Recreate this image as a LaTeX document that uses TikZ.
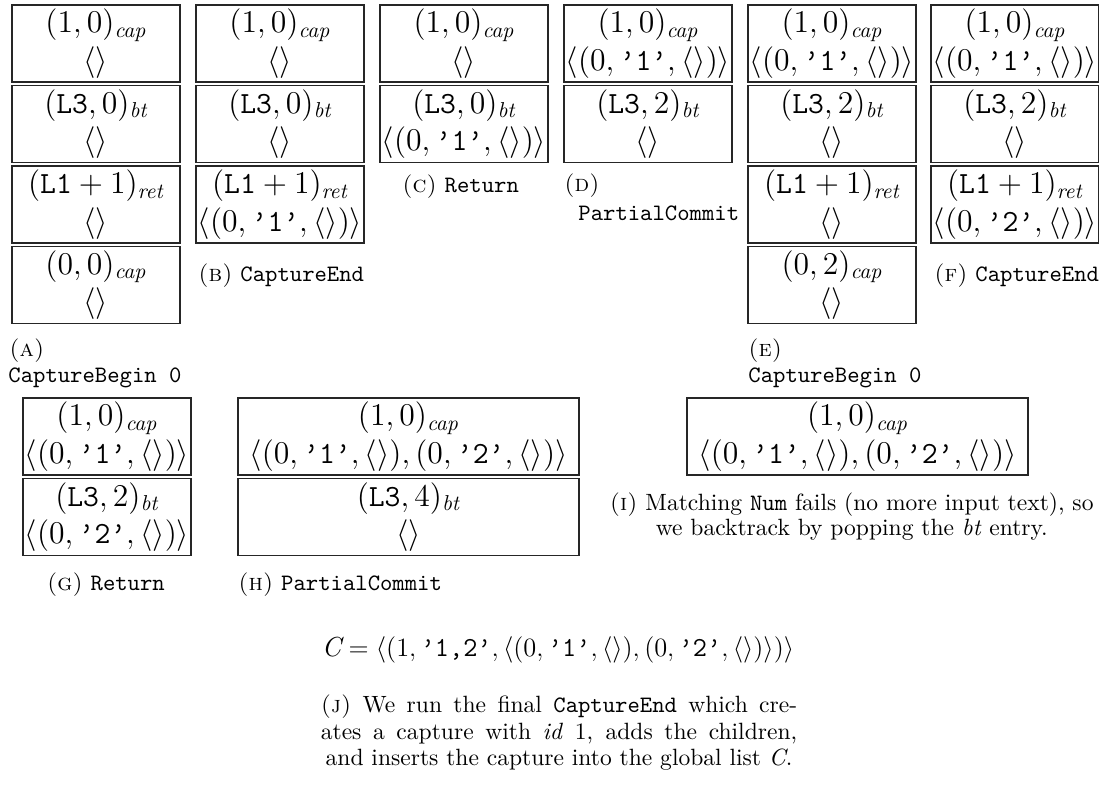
\documentclass[tikz,border=0pt]{standalone}
\usepackage{amsmath}
\newcommand{\qs}[1]{\texttt{’#1’}}
\newcommand{\emp}{\langle\rangle}
\newcommand{\chld}[1]{\langle(0,\qs{#1},\emp)\rangle}
\newcommand{\both}{\langle(0,\qs{1},\emp),(0,\qs{2},\emp)\rangle}
\begin{document}
\begin{tikzpicture}[x=0.4545pt,y=-0.4545pt,
  cell/.style={draw=black!85, line width=0.6pt, minimum width=76.4pt, minimum height=35pt,
    inner sep=0pt, align=center, font=\fontsize{14}{17}\selectfont},
  widecell/.style={cell, minimum width=155pt},
  capt/.style={font=\fontsize{10.7}{12.5}\selectfont, inner sep=0pt, anchor=west},
  captc/.style={font=\fontsize{10.7}{12.5}\selectfont, inner sep=0pt, anchor=center}]
\useasboundingbox (0,0) rectangle (1099,807);
% column A
\node[cell] (a1) at (96,43.5) {$(1,0)_{\textit{cap}}$\\$\emp$};
\node[cell] (a2) at (96,124) {$(\texttt{L3},0)_{\textit{bt}}$\\$\emp$};
\node[cell] (a3) at (96,204.5) {$(\texttt{L1}+1)_{\textit{ret}}$\\$\emp$};
\node[cell] (a4) at (96,285) {$(0,0)_{\textit{cap}}$\\$\emp$};
\node[capt] (la) at (9,351) {\textsc{(a)}};
\node[capt] (lat) at (8,378) {\texttt{CaptureBegin 0}};
% column B
\node[cell] (b1) at (280,43.5) {$(1,0)_{\textit{cap}}$\\$\emp$};
\node[cell] (b2) at (280,124) {$(\texttt{L3},0)_{\textit{bt}}$\\$\emp$};
\node[cell] (b3) at (280,204.5) {$(\texttt{L1}+1)_{\textit{ret}}$\\$\chld{1}$};
\node[capt] (lb) at (198,276) {\textsc{(b)} \texttt{CaptureEnd}};
% column C
\node[cell] (c1) at (464,43.5) {$(1,0)_{\textit{cap}}$\\$\emp$};
\node[cell] (c2) at (464,124) {$(\texttt{L3},0)_{\textit{bt}}$\\$\chld{1}$};
\node[capt] (lc) at (402,187) {\textsc{(c)} \texttt{Return}};
% column D
\node[cell] (d1) at (648,43.5) {$(1,0)_{\textit{cap}}$\\$\chld{1}$};
\node[cell] (d2) at (648,124) {$(\texttt{L3},2)_{\textit{bt}}$\\$\emp$};
\node[capt] (ld) at (564,186) {\textsc{(d)}};
\node[capt] (ldt) at (578,213) {\texttt{PartialCommit}};
% column E
\node[cell] (e1) at (832,43.5) {$(1,0)_{\textit{cap}}$\\$\chld{1}$};
\node[cell] (e2) at (832,124) {$(\texttt{L3},2)_{\textit{bt}}$\\$\emp$};
\node[cell] (e3) at (832,204.5) {$(\texttt{L1}+1)_{\textit{ret}}$\\$\emp$};
\node[cell] (e4) at (832,285) {$(0,2)_{\textit{cap}}$\\$\emp$};
\node[capt] (le) at (748,351) {\textsc{(e)}};
\node[capt] (let) at (748,378) {\texttt{CaptureBegin 0}};
% column F
\node[cell] (f1) at (1015,43.5) {$(1,0)_{\textit{cap}}$\\$\chld{1}$};
\node[cell] (f2) at (1015,124) {$(\texttt{L3},2)_{\textit{bt}}$\\$\emp$};
\node[cell] (f3) at (1015,204.5) {$(\texttt{L1}+1)_{\textit{ret}}$\\$\chld{2}$};
\node[capt] (lf) at (934,276) {\textsc{(f)} \texttt{CaptureEnd}};
% second row
\node[cell] (g1) at (107,436.5) {$(1,0)_{\textit{cap}}$\\$\chld{1}$};
\node[cell] (g2) at (107,517) {$(\texttt{L3},2)_{\textit{bt}}$\\$\chld{2}$};
\node[captc] (lg) at (106,585) {\textsc{(g)} \texttt{Return}};
\node[widecell] (h1) at (408.5,436.5) {$(1,0)_{\textit{cap}}$\\$\both$};
\node[widecell] (h2) at (408.5,517) {$(\texttt{L3},4)_{\textit{bt}}$\\$\emp$};
\node[capt] (lh) at (238,585) {\textsc{(h)} \texttt{PartialCommit}};
\node[widecell] (i1) at (857.5,436.5) {$(1,0)_{\textit{cap}}$\\$\both$};
\node[captc, anchor=east] (li1) at (1094,505) {\textsc{(i)} Matching \texttt{Num} fails (no more input text), so};
\path (li1.center) ++(0,25) node[captc] (li2) {we backtrack by popping the \textit{bt} entry.};
% formula
\node[inner sep=0pt, font=\fontsize{12.5}{14}\selectfont] (cf) at (558,650)
  {$\textit{C} = \langle(1,\qs{1,2},\langle(0,\qs{1},\emp),(0,\qs{2},\emp)\rangle)\rangle$};
\node[captc] (lj1) at (559,707) {\makebox[216.5pt][s]{\textsc{(j)} We run the final \texttt{CaptureEnd} which cre-}};
\node[captc] (lj2) at (559,734) {\makebox[216.5pt][s]{ates a capture with \textit{id} 1, adds the children,}};
\node[captc] (lj3) at (559,760) {and inserts the capture into the global list \textit{C}.};
\end{tikzpicture}
\end{document}
